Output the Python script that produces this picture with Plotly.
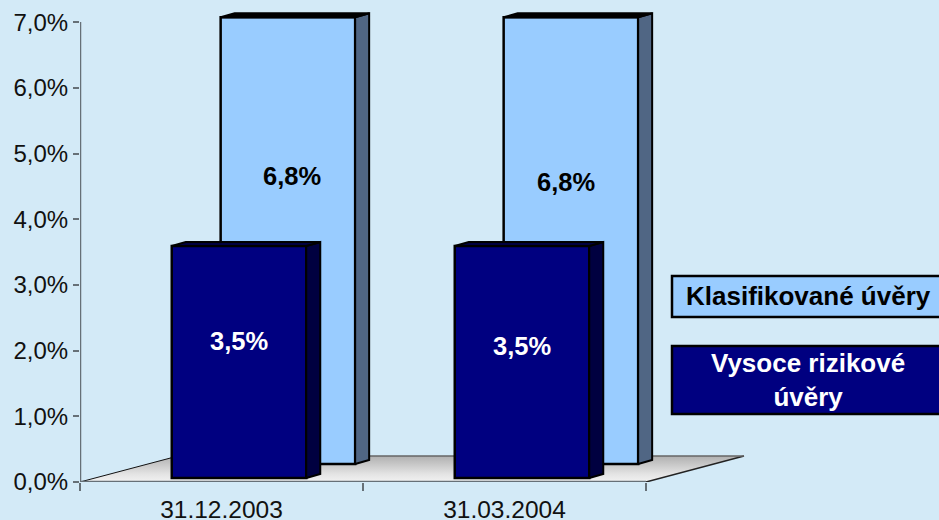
import plotly.graph_objects as go

categories = ["31.12.2003", "31.03.2004"]
klasifikovane = [6.8, 6.8]
vysoce_rizikove = [3.53, 3.53]
y_ticks = [0, 1, 2, 3, 4, 5, 6, 7]
y_labels = ["0,0%", "1,0%", "2,0%", "3,0%", "4,0%", "5,0%", "6,0%", "7,0%"]

BG = "#D3EAF7"
LIGHT = "#99CCFF"
LIGHT_SIDE = "#506684"
DARK = "#000080"
DARK_SIDE = "#000040"
AXIS = "#667077"
FONT = "Liberation Sans, Arial, sans-serif"

PX_X = 283.0            # pixels per category
PX_Y = 65.7             # pixels per 1 %
W, H = 939, 520
ML, MT, MB = 80, 2, 38
x_max = (W - ML) / PX_X
y_max = (H - MT - MB) / PX_Y

bar_w = 134.5 / PX_X
dx = 14 / PX_X
dy = 4 / PX_Y
floor_dx = 98 / PX_X
floor_dy = 26 / PX_Y

light_off = 66.4 / PX_X
light_base = 18 / PX_Y
dark_off = 17.5 / PX_X
dark_base = 4 / PX_Y

centers = [i + 0.5 for i in range(len(categories))]
n = len(categories)

fig = go.Figure()

# floor
fig.add_trace(go.Scatter(
    x=[0, floor_dx, n + floor_dx, n, 0], y=[0, floor_dy, floor_dy, 0, 0],
    mode="lines", line=dict(width=0), fill="toself",
    fillgradient=dict(type="vertical", colorscale=[[0, "#F2F2F2"], [0.3, "#E4E4E4"], [1, "#B0B0B0"]]),
    hoverinfo="skip", showlegend=False))
fig.add_trace(go.Scatter(x=[0, floor_dx], y=[0, floor_dy], mode="lines",
                         line=dict(color="#111111", width=1), showlegend=False, hoverinfo="skip"))
fig.add_trace(go.Scatter(x=[n, n + floor_dx], y=[0, floor_dy], mode="lines",
                         line=dict(color="#222222", width=1.5), showlegend=False, hoverinfo="skip"))
fig.add_trace(go.Scatter(x=[floor_dx, n + floor_dx], y=[floor_dy, floor_dy], mode="lines",
                         line=dict(color="#666666", width=1.5), showlegend=False, hoverinfo="skip"))
# axis lines
fig.add_trace(go.Scatter(x=[0, n], y=[0, 0], mode="lines", cliponaxis=False,
                         line=dict(color=AXIS, width=2.5), showlegend=False, hoverinfo="skip"))
fig.add_trace(go.Scatter(x=[0, 0], y=[0, y_ticks[-1]], mode="lines", cliponaxis=False,
                         line=dict(color=AXIS, width=2.5), showlegend=False, hoverinfo="skip"))


def add_series(values, name, off, base, front, side, top):
    xs = [c + off for c in centers]
    fig.add_trace(go.Bar(
        x=xs, y=values, base=[base] * len(values), width=bar_w, name=name,
        marker=dict(color=front, line=dict(color="black", width=2.5)),
        xaxis="x2", yaxis="y2", showlegend=False))
    for xc, v in zip(xs, values):
        l, r = xc - bar_w / 2, xc + bar_w / 2
        t = base + v
        fig.add_trace(go.Scatter(
            x=[r, r + dx, r + dx, r, r], y=[base, base + dy, t + dy, t, base],
            mode="lines", fill="toself", fillcolor=side, line=dict(color="black", width=2),
            xaxis="x2", yaxis="y2", showlegend=False, hoverinfo="skip", cliponaxis=False))
        fig.add_trace(go.Scatter(
            x=[l, l + dx, r + dx, r, l], y=[t, t + dy, t + dy, t, t],
            mode="lines", fill="toself", fillcolor=top, line=dict(color="black", width=2),
            xaxis="x2", yaxis="y2", showlegend=False, hoverinfo="skip", cliponaxis=False))


add_series(klasifikovane, "Klasifikované úvěry", light_off, light_base, LIGHT, LIGHT_SIDE, "#000000")
add_series(vysoce_rizikove, "Vysoce rizikové úvěry", dark_off, dark_base, DARK, DARK_SIDE, DARK_SIDE)


def fmt(v):
    return f"{v:.1f}".replace(".", ",") + "%"


annotations = []
light_label_dx = [4, -5]
light_shift = [-10, -16]
dark_shift = [-3, -8]
for c, v, s, d in zip(centers, klasifikovane, light_shift, light_label_dx):
    annotations.append(dict(x=c + light_off + d / PX_X, y=light_base + v * 0.5, xref="x2", yref="y2",
                            text=f"<b>{fmt(v)}</b>", showarrow=False, yshift=s + 75,
                            font=dict(family=FONT, size=25.5, color="black")))
for c, v, s in zip(centers, vysoce_rizikove, dark_shift):
    annotations.append(dict(x=c + dark_off, y=dark_base + v * 0.5, xref="x2", yref="y2",
                            text=f"<b>{fmt(v)}</b>", showarrow=False, yshift=s + 24,
                            font=dict(family=FONT, size=25.5, color="white")))


def px_x(p):
    return (p - ML) / (W - ML)


def px_y(p):
    return 1 - (p - MT) / (H - MT - MB)


annotations.append(dict(xref="paper", yref="paper", x=px_x(808), y=px_y(296), showarrow=False,
                        xanchor="center", yanchor="middle",
                        text="<b>Klasifikované úvěry</b>",
                        font=dict(family=FONT, size=26, color="black")))
annotations.append(dict(xref="paper", yref="paper", x=px_x(808), y=px_y(380), showarrow=False,
                        xanchor="center", yanchor="middle",
                        text="<b>Vysoce rizikové<br>úvěry</b>", align="center",
                        font=dict(family=FONT, size=26, color="white")))

shapes = [
    dict(type="rect", xref="paper", yref="paper", x0=px_x(672), x1=px_x(942), y0=px_y(317), y1=px_y(276),
         fillcolor=LIGHT, line=dict(color="black", width=2.5)),
    dict(type="rect", xref="paper", yref="paper", x0=px_x(672), x1=px_x(942), y0=px_y(414), y1=px_y(346),
         fillcolor=DARK, line=dict(color="black", width=2.5)),
]

fig.update_layout(
    width=W, height=H,
    margin=dict(l=ML, r=0, t=MT, b=MB, pad=0, autoexpand=False),
    paper_bgcolor=BG, plot_bgcolor=BG,
    barmode="overlay", showlegend=False,
    font=dict(family=FONT, size=24, color="#111111"),
    annotations=annotations, shapes=shapes,
    xaxis=dict(range=[0, x_max], tickmode="array", tickvals=list(range(n + 1)), ticktext=[""] * (n + 1),
               ticks="outside", ticklen=8, tickwidth=2, tickcolor=AXIS, showgrid=False, zeroline=False, showline=False),
    yaxis=dict(range=[0, y_max], tickmode="array", tickvals=y_ticks, ticktext=y_labels,
               ticks="outside", ticklen=6, tickwidth=2, tickcolor=AXIS, showgrid=False, zeroline=False, showline=False,
               tickfont=dict(family=FONT, size=24, color="#111111")),
    xaxis2=dict(range=[0, x_max], overlaying="x", side="bottom", tickmode="array", tickvals=centers, ticktext=categories,
                ticks="outside", ticklen=6, tickcolor="rgba(0,0,0,0)", showgrid=False, zeroline=False, showline=False,
                tickfont=dict(family=FONT, size=24.5, color="#111111")),
    yaxis2=dict(range=[0, y_max], overlaying="y", visible=False),
)

fig.write_html("out.html", config={"displayModeBar": False},
               post_script="document.body.style.margin='0';document.documentElement.style.overflow='hidden';")
